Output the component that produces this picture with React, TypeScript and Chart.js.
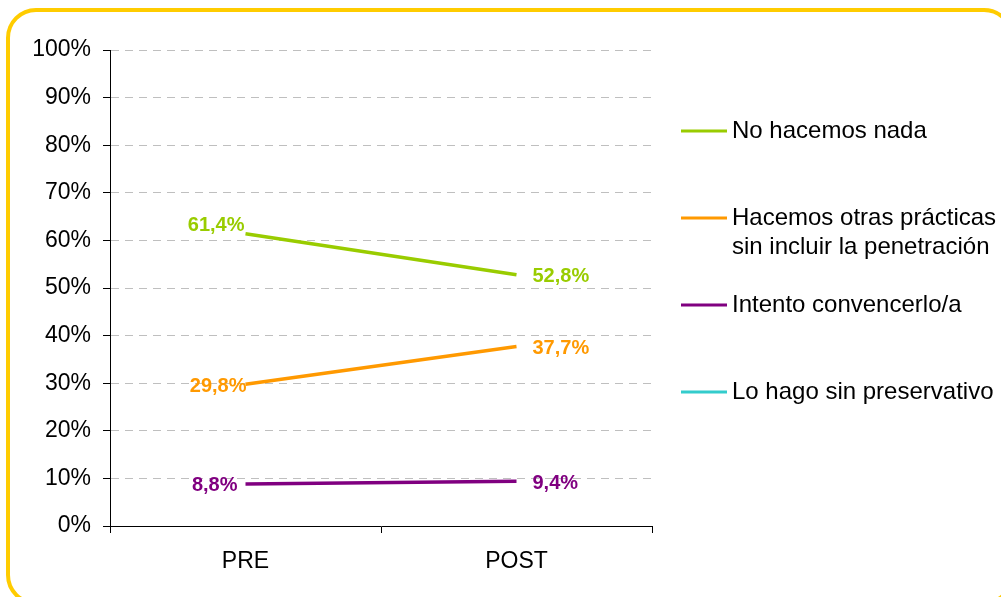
import React, { useEffect, useRef } from "react";
import { Chart, registerables } from "chart.js";

Chart.register(...registerables);

const categories = ["PRE", "POST"];
const seriesNames = [
  "No hacemos nada",
  "Hacemos otras prácticas\nsin incluir la penetración",
  "Intento convencerlo/a",
  "Lo hago sin preservativo",
];
const seriesColors = ["#99CC00", "#FF9900", "#800080", "#33CCCC"];
const noHacemosNada = [61.4, 52.8];
const otrasPracticas = [29.8, 37.7];
const intentoConvencerlo = [8.8, 9.4];
const sinPreservativo: (number | null)[] = [null, null];
const yTicks = [0, 10, 20, 30, 40, 50, 60, 70, 80, 90, 100];

const FONT = "'Liberation Sans', Arial, sans-serif";

const preShiftY = [-8, 2, 1, 0];
const preShiftX = [-1, 1, -8, 0];

const dataLabelPlugin = {
  id: "dataLabels",
  afterDatasetsDraw(chart: any) {
    const ctx = chart.ctx;
    chart.data.datasets.forEach((ds: any, di: number) => {
      const meta = chart.getDatasetMeta(di);
      meta.data.forEach((pt: any, i: number) => {
        const v = ds.data[i];
        if (v === null || v === undefined) return;
        const text = v.toFixed(1).replace(".", ",") + "%";
        ctx.save();
        ctx.font = `bold 20px ${FONT}`;
        ctx.fillStyle = ds.borderColor;
        ctx.textBaseline = "middle";
        if (i === 0) {
          ctx.textAlign = "right";
          ctx.fillText(text, pt.x + preShiftX[di], pt.y + preShiftY[di]);
        } else {
          ctx.textAlign = "left";
          ctx.fillText(text, pt.x + 16, pt.y + 2);
        }
        ctx.restore();
      });
    });
  },
};

const legendPlugin = {
  id: "sideLegend",
  afterDraw(chart: any) {
    const ctx = chart.ctx;
    const area = chart.chartArea;
    const x0 = area.right + 29;
    const step = 87;
    const y0 = 131;
    chart.data.datasets.forEach((ds: any, di: number) => {
      const y = y0 + di * step;
      ctx.save();
      ctx.strokeStyle = ds.borderColor;
      ctx.lineWidth = 3;
      ctx.beginPath();
      ctx.moveTo(x0, y);
      ctx.lineTo(x0 + 46, y);
      ctx.stroke();
      ctx.font = `24px ${FONT}`;
      ctx.fillStyle = "#000";
      ctx.textAlign = "left";
      ctx.textBaseline = "middle";
      String(ds.label)
        .split("\n")
        .forEach((line: string, li: number) => {
          ctx.fillText(line, x0 + 51, y + li * 29);
        });
      ctx.restore();
    });
  },
};

export default function App() {
  const canvasRef = useRef<HTMLCanvasElement | null>(null);

  useEffect(() => {
    if (!canvasRef.current) return;
    const seriesData = [noHacemosNada, otrasPracticas, intentoConvencerlo, sinPreservativo];
    const chart = new Chart(canvasRef.current, {
      type: "line",
      data: {
        labels: categories,
        datasets: seriesData.map((d, i) => ({
          label: seriesNames[i],
          data: d,
          borderColor: seriesColors[i],
          backgroundColor: seriesColors[i],
          borderWidth: 3.5,
          pointRadius: 0,
          tension: 0,
          fill: false,
        })),
      },
      options: {
        animation: false,
        responsive: false,
        maintainAspectRatio: false,
        layout: { padding: { left: 0, top: 50, right: 349, bottom: 0 } },
        plugins: {
          legend: { display: false },
          tooltip: { enabled: false },
        },
        scales: {
          x: {
            offset: true,
            grid: {
              offset: true,
              drawOnChartArea: false,
              drawTicks: true,
              tickLength: 7,
              tickColor: "#000",
              color: "#000",
            },
            border: { display: true, color: "#000", width: 1 },
            ticks: {
              color: "#000",
              font: { family: FONT, size: 23 },
              padding: 15,
            },
            afterFit(scale: any) {
              scale.height = 71;
            },
          },
          y: {
            min: 0,
            max: 100,
            afterBuildTicks(scale: any) {
              scale.ticks = yTicks.map((v) => ({ value: v }));
            },
            grid: {
              color: (c: any) => (c.tick && c.tick.value === 0 ? "rgba(0,0,0,0)" : "#BFBFBF"),
              lineWidth: 1,
              drawTicks: true,
              tickLength: 7,
              tickColor: "#000",
            },
            border: { display: true, color: "#000", width: 1, dash: [8, 6] },
            ticks: {
              color: "#000",
              font: { family: FONT, size: 23 },
              padding: 12,
              callback: (v: any) => v + "%",
            },
            afterFit(scale: any) {
              scale.width = 110;
            },
          },
        },
      },
      plugins: [dataLabelPlugin, legendPlugin],
    });
    return () => chart.destroy();
  }, []);

  return (
    <div
      style={{
        position: "absolute",
        left: 0,
        top: 0,
        width: 1001,
        height: 597,
        overflow: "hidden",
        background: "#fff",
      }}
    >
      <div
        style={{
          position: "absolute",
          left: 6,
          top: 8,
          width: 1008,
          height: 597,
          border: "4px solid #FFCC00",
          borderRadius: 30,
          boxSizing: "border-box",
        }}
      />
      <canvas
        ref={canvasRef}
        width={1001}
        height={597}
        style={{ position: "absolute", left: 0, top: 0, width: 1001, height: 597 }}
      />
    </div>
  );
}
